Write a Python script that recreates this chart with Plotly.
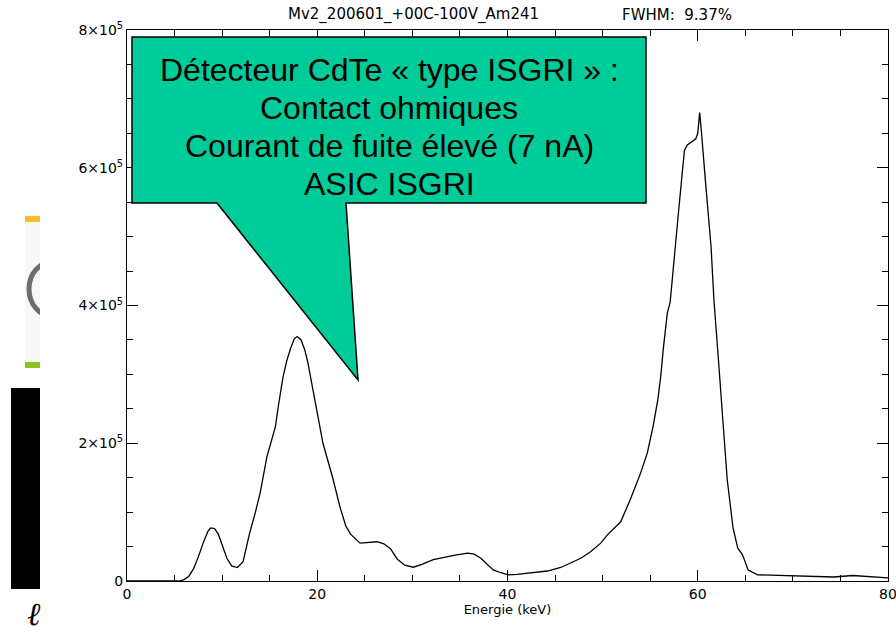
import plotly.graph_objects as go

# ---- data ----
energy_kev = [0, 5.5, 6.0, 6.5, 7.0, 7.5, 8.0, 8.5, 8.8, 9.2, 9.6, 10.0, 10.5, 11.0, 11.6, 12.2,
              12.9, 13.5, 14.0, 14.7, 15.6, 15.9, 16.4, 16.8, 17.2, 17.6, 17.9, 18.3, 18.7,
              19.0, 19.3, 20.0, 20.6, 21.6, 22.4, 23.0, 23.5, 24.5, 25.5, 26.3, 27.0, 27.7,
              28.4, 29.2, 30.1, 31.0, 32.2, 33.5, 34.5, 35.8, 36.5, 37.2, 38.0, 38.5, 39.3,
              40.1, 41.0, 42.0, 43.0, 44.2, 45.6, 46.5, 47.7, 48.7, 49.8, 50.5, 51.9, 52.9,
              54.0, 54.7, 55.3, 55.8, 56.1, 56.4, 56.8, 57.1, 57.5, 58.0, 58.4, 58.6, 58.9,
              59.2, 59.5, 59.8, 60.0, 60.2, 60.4, 60.6, 60.8, 61.4, 61.7, 62.1, 62.6, 63.1,
              63.7, 64.2, 64.7, 65.3, 66.3, 67.4, 70.1, 74.3, 76.3, 78.0, 80.0]
counts = [0, 0, 2000, 7000, 18000, 35000, 55000, 72000, 77000, 76000, 68000, 52000, 33000,
          22000, 19500, 28000, 70000, 100000, 128000, 180000, 224000, 253000, 296000, 320000,
          338000, 352000, 355000, 350000, 335000, 318000, 296000, 248000, 200000, 151000,
          107000, 80000, 68000, 55000, 56000, 57000, 54000, 47000, 32000, 23000, 20000, 24000,
          31000, 35000, 37500, 40500, 39000, 33000, 22000, 16000, 12000, 9000, 9500, 11000,
          12500, 14500, 19600, 25000, 33000, 42000, 55000, 67000, 86000, 118000, 157000,
          186000, 224000, 263000, 296000, 340000, 389000, 405000, 470000, 539000, 597000,
          625000, 633000, 636000, 640000, 642000, 650000, 680000, 650000, 610000, 582000,
          485000, 408000, 335000, 238000, 147000, 78000, 48000, 38000, 16000, 9000, 8700,
          7300, 5800, 8000, 6000, 4400]

y_tickvals = [0, 200000, 400000, 600000, 800000]
y_ticktext = ["0", "2×10<sup>5</sup>", "4×10<sup>5</sup>", "6×10<sup>5</sup>", "8×10<sup>5</sup>"]
x_tickvals = [0, 20, 40, 60, 80]

title_left = "Mv2_200601_+00C-100V_Am241"
title_right = "FWHM:  9.37%"
x_title = "Energie (keV)"
callout_lines = ["Détecteur CdTe « type ISGRI » :", "Contact ohmiques",
                 "Courant de fuite élevé (7 nA)", "ASIC ISGRI"]

# ---- layout geometry (pixels) ----
W, H = 896, 633
L, R, T, B = 127, 888, 30, 581


def px(x):
    return (x - L) / (R - L)


def py(y):
    return (B - y) / (B - T)


fig = go.Figure()
fig.add_trace(go.Scatter(x=energy_kev, y=counts, mode="lines",
                         line=dict(color="black", width=1.3), showlegend=False,
                         hoverinfo="skip"))

tickfont = dict(family="DejaVu Sans", size=14, color="black")
fig.update_xaxes(range=[0, 80], tickvals=x_tickvals, ticks="inside", ticklen=11,
                 tickcolor="black", tickwidth=1, showline=True, linecolor="black",
                 linewidth=1.2, mirror="ticks", showgrid=False, zeroline=False,
                 tickfont=tickfont, ticklabeloverflow="allow", automargin=False,
                 minor=dict(ticks="inside", ticklen=6, dtick=5, tickcolor="black",
                            showgrid=False),
                 title=dict(text=x_title, font=dict(family="DejaVu Sans", size=13, color="black"),
                            standoff=2))
fig.update_yaxes(range=[0, 800000], tickvals=y_tickvals, ticktext=y_ticktext, ticks="inside",
                 ticklen=11, tickcolor="black", tickwidth=1, showline=True, linecolor="black",
                 linewidth=1.2, mirror="ticks", showgrid=False, zeroline=False,
                 tickfont=tickfont, ticklabeloverflow="allow", automargin=False,
                 minor=dict(ticks="inside", ticklen=6, dtick=50000, tickcolor="black",
                            showgrid=False))

shapes = []
# slide background artifacts on the left
shapes.append(dict(type="rect", xref="paper", yref="paper", x0=px(25), x1=px(40), y0=py(368),
                   y1=py(215), fillcolor="#f7f7f7", line=dict(width=0), layer="above"))
shapes.append(dict(type="circle", xref="paper", yref="paper", x0=px(29), x1=px(75), y0=py(316),
                   y1=py(262), fillcolor="rgba(0,0,0,0)", line=dict(color="#6b6e70", width=5),
                   layer="above"))
shapes.append(dict(type="rect", xref="paper", yref="paper", x0=px(40), x1=px(78), y0=py(325),
                   y1=py(255), fillcolor="white", line=dict(width=0), layer="above"))
shapes.append(dict(type="rect", xref="paper", yref="paper", x0=px(25), x1=px(40), y0=py(222),
                   y1=py(216), fillcolor="#f4c02c", line=dict(width=0), layer="above"))
shapes.append(dict(type="rect", xref="paper", yref="paper", x0=px(25), x1=px(40), y0=py(368),
                   y1=py(362), fillcolor="#8cc21f", line=dict(width=0), layer="above"))
shapes.append(dict(type="rect", xref="paper", yref="paper", x0=px(11), x1=px(40), y0=py(589),
                   y1=py(388), fillcolor="black", line=dict(width=0), layer="above"))

# callout box
pts = [(132, 37), (646, 37), (646, 203), (346, 203), (358, 380), (217, 203), (132, 203)]
path = "M " + " L ".join(f"{px(a):.5f},{py(b):.5f}" for a, b in pts) + " Z"
shapes.append(dict(type="path", xref="paper", yref="paper", path=path, fillcolor="#00cc99",
                   line=dict(color="black", width=1.5), layer="above"))
fig.update_layout(shapes=shapes)

annotations = []
line_y = [70, 108, 146, 184]
for txt, yy in zip(callout_lines, line_y):
    annotations.append(dict(text=txt, xref="paper", yref="paper", x=px(389), y=py(yy),
                            xanchor="center", yanchor="middle", showarrow=False,
                            font=dict(family="Liberation Sans", size=32, color="black")))
annotations.append(dict(text=title_left, xref="paper", yref="paper", x=px(413), y=py(15),
                        xanchor="center", yanchor="middle", showarrow=False,
                        font=dict(family="DejaVu Sans", size=15, color="black")))
annotations.append(dict(text=title_right, xref="paper", yref="paper", x=px(620), y=py(15),
                        xanchor="left", yanchor="middle", showarrow=False,
                        font=dict(family="DejaVu Sans", size=15, color="black")))
annotations.append(dict(text="<i>ℓ</i>", xref="paper", yref="paper", x=px(34), y=py(614),
                        xanchor="center", yanchor="middle", showarrow=False,
                        font=dict(family="DejaVu Serif", size=32, color="black")))
fig.update_layout(annotations=annotations)

fig.update_layout(width=W, height=H, margin=dict(l=L, r=W - R, t=T, b=H - B, autoexpand=False),
                  paper_bgcolor="white", plot_bgcolor="white")

fig.write_html("out.html")
